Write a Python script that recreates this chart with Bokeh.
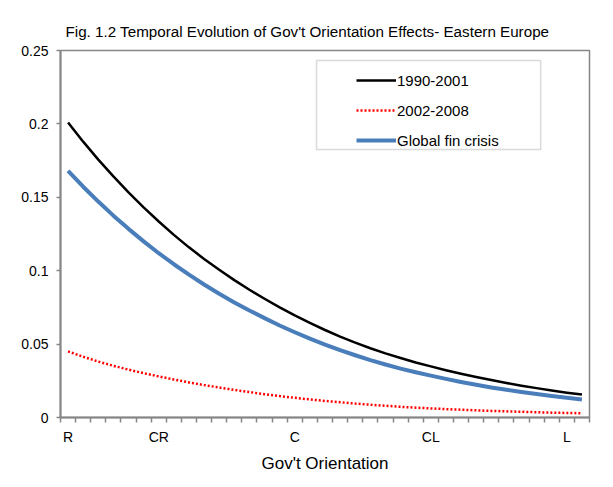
from bokeh.plotting import figure
from bokeh.models import FixedTicker, Range1d, Legend, LegendItem, BoxAnnotation
from bokeh.embed import file_html
from bokeh.resources import INLINE

# ---- data ----
points = list(range(35))
xtick_pos = [0, 6, 15, 24, 33]
xtick_labels = ["R", "CR", "C", "CL", "L"]
yticks = [0, 0.05, 0.1, 0.15, 0.2, 0.25]
ytick_labels = ["0", "0.05", "0.1", "0.15", "0.2", "0.25"]

s_1990_2001 = [0.2010, 0.1879, 0.1757, 0.1642, 0.1533, 0.1431, 0.1335, 0.1244, 0.1159, 0.1080,
               0.1006, 0.0936, 0.0870, 0.0809, 0.0750, 0.0695, 0.0644, 0.0596, 0.0551, 0.0510,
               0.0472, 0.0437, 0.0405, 0.0375, 0.0348, 0.0322, 0.0298, 0.0276, 0.0255, 0.0235,
               0.0217, 0.0200, 0.0184, 0.0169, 0.0156]
s_2002_2008 = [0.0450, 0.0414, 0.0381, 0.0352, 0.0326, 0.0302, 0.0280, 0.0259, 0.0239, 0.0221,
               0.0204, 0.0188, 0.0173, 0.0159, 0.0146, 0.0134, 0.0123, 0.0113, 0.0104, 0.0095,
               0.0087, 0.0080, 0.0073, 0.0067, 0.0062, 0.0057, 0.0053, 0.0049, 0.0045, 0.0042,
               0.0039, 0.0036, 0.0033, 0.0031, 0.0029]
s_global = [0.1680, 0.1572, 0.1471, 0.1375, 0.1285, 0.1200, 0.1119, 0.1044, 0.0973, 0.0906,
            0.0843, 0.0784, 0.0729, 0.0677, 0.0627, 0.0581, 0.0537, 0.0497, 0.0459, 0.0424,
            0.0391, 0.0361, 0.0333, 0.0308, 0.0285, 0.0263, 0.0242, 0.0223, 0.0205, 0.0189,
            0.0174, 0.0160, 0.0147, 0.0135, 0.0123]

FONT = "Liberation Sans"
GRAY = "#868686"

p = figure(width=613, height=487, output_backend="svg", toolbar_location=None,
           x_range=Range1d(-0.5, 34.5), y_range=Range1d(0, 0.25),
           min_border_left=60, min_border_right=24, min_border_top=50, min_border_bottom=70)

p.title.text = "Fig. 1.2 Temporal Evolution of Gov't Orientation Effects- Eastern Europe"
p.title.align = "left"
p.title.offset = 5
p.title.standoff = 22
p.title.text_font = FONT
p.title.text_font_style = "normal"
p.title.text_font_size = "15.2px"
p.title.text_color = "black"

p.xgrid.visible = False
p.ygrid.visible = False
p.outline_line_color = GRAY
p.outline_line_width = 1.5

# y axis
yax = p.yaxis[0]
yax.ticker = FixedTicker(ticks=yticks)
yax.major_label_overrides = {t: l for t, l in zip(yticks, ytick_labels)}
yax.axis_line_color = GRAY
yax.axis_line_width = 2
yax.major_tick_line_color = GRAY
yax.major_tick_line_width = 1.5
yax.major_tick_out = 4
yax.major_tick_in = 0
yax.minor_tick_line_color = None
yax.major_label_standoff = 8
yax.major_label_text_font = FONT
yax.major_label_text_font_size = "14px"
yax.major_label_text_color = "black"

# x axis
xax = p.xaxis[0]
xax.ticker = FixedTicker(ticks=xtick_pos, minor_ticks=[i - 0.5 for i in range(len(points) + 1)])
xax.major_label_overrides = {t: l for t, l in zip(xtick_pos, xtick_labels)}
xax.axis_line_color = GRAY
xax.axis_line_width = 2
xax.major_tick_line_color = None
xax.major_tick_out = 0
xax.major_tick_in = 0
xax.minor_tick_line_color = GRAY
xax.minor_tick_line_width = 1.5
xax.minor_tick_out = 5
xax.minor_tick_in = 0
xax.major_label_standoff = 6
xax.major_label_text_font = FONT
xax.major_label_text_font_size = "14px"
xax.major_label_text_color = "black"
xax.axis_label = "Gov't Orientation"
xax.axis_label_text_font = FONT
xax.axis_label_text_font_style = "normal"
xax.axis_label_text_font_size = "17px"
xax.axis_label_text_color = "black"
xax.axis_label_standoff = 6

r1 = p.line(points, s_1990_2001, line_color="black", line_width=2.5, line_join="round")
r2 = p.line(points, s_2002_2008, line_color="#FF0000", line_width=2.5, line_dash="2 2")
r3 = p.line(points, s_global, line_color="#4A7EBB", line_width=4, line_join="round")

box = BoxAnnotation(left=16.44, right=31.27, bottom=0.1826, top=0.2432,
                    fill_color="white", fill_alpha=1, line_color=GRAY, line_width=1.5)
p.add_layout(box)

legend = Legend(items=[LegendItem(label="1990-2001", renderers=[r1]),
                       LegendItem(label="2002-2008", renderers=[r2]),
                       LegendItem(label="Global fin crisis", renderers=[r3])],
                location=(296, 267), border_line_color=None, background_fill_alpha=0,
                padding=5, spacing=10, glyph_width=40, glyph_height=20, label_height=20,
                label_standoff=1, label_text_font=FONT, label_text_font_size="15px",
                label_text_color="black")
p.add_layout(legend)

open("out.html", "w").write(file_html(p, INLINE))
